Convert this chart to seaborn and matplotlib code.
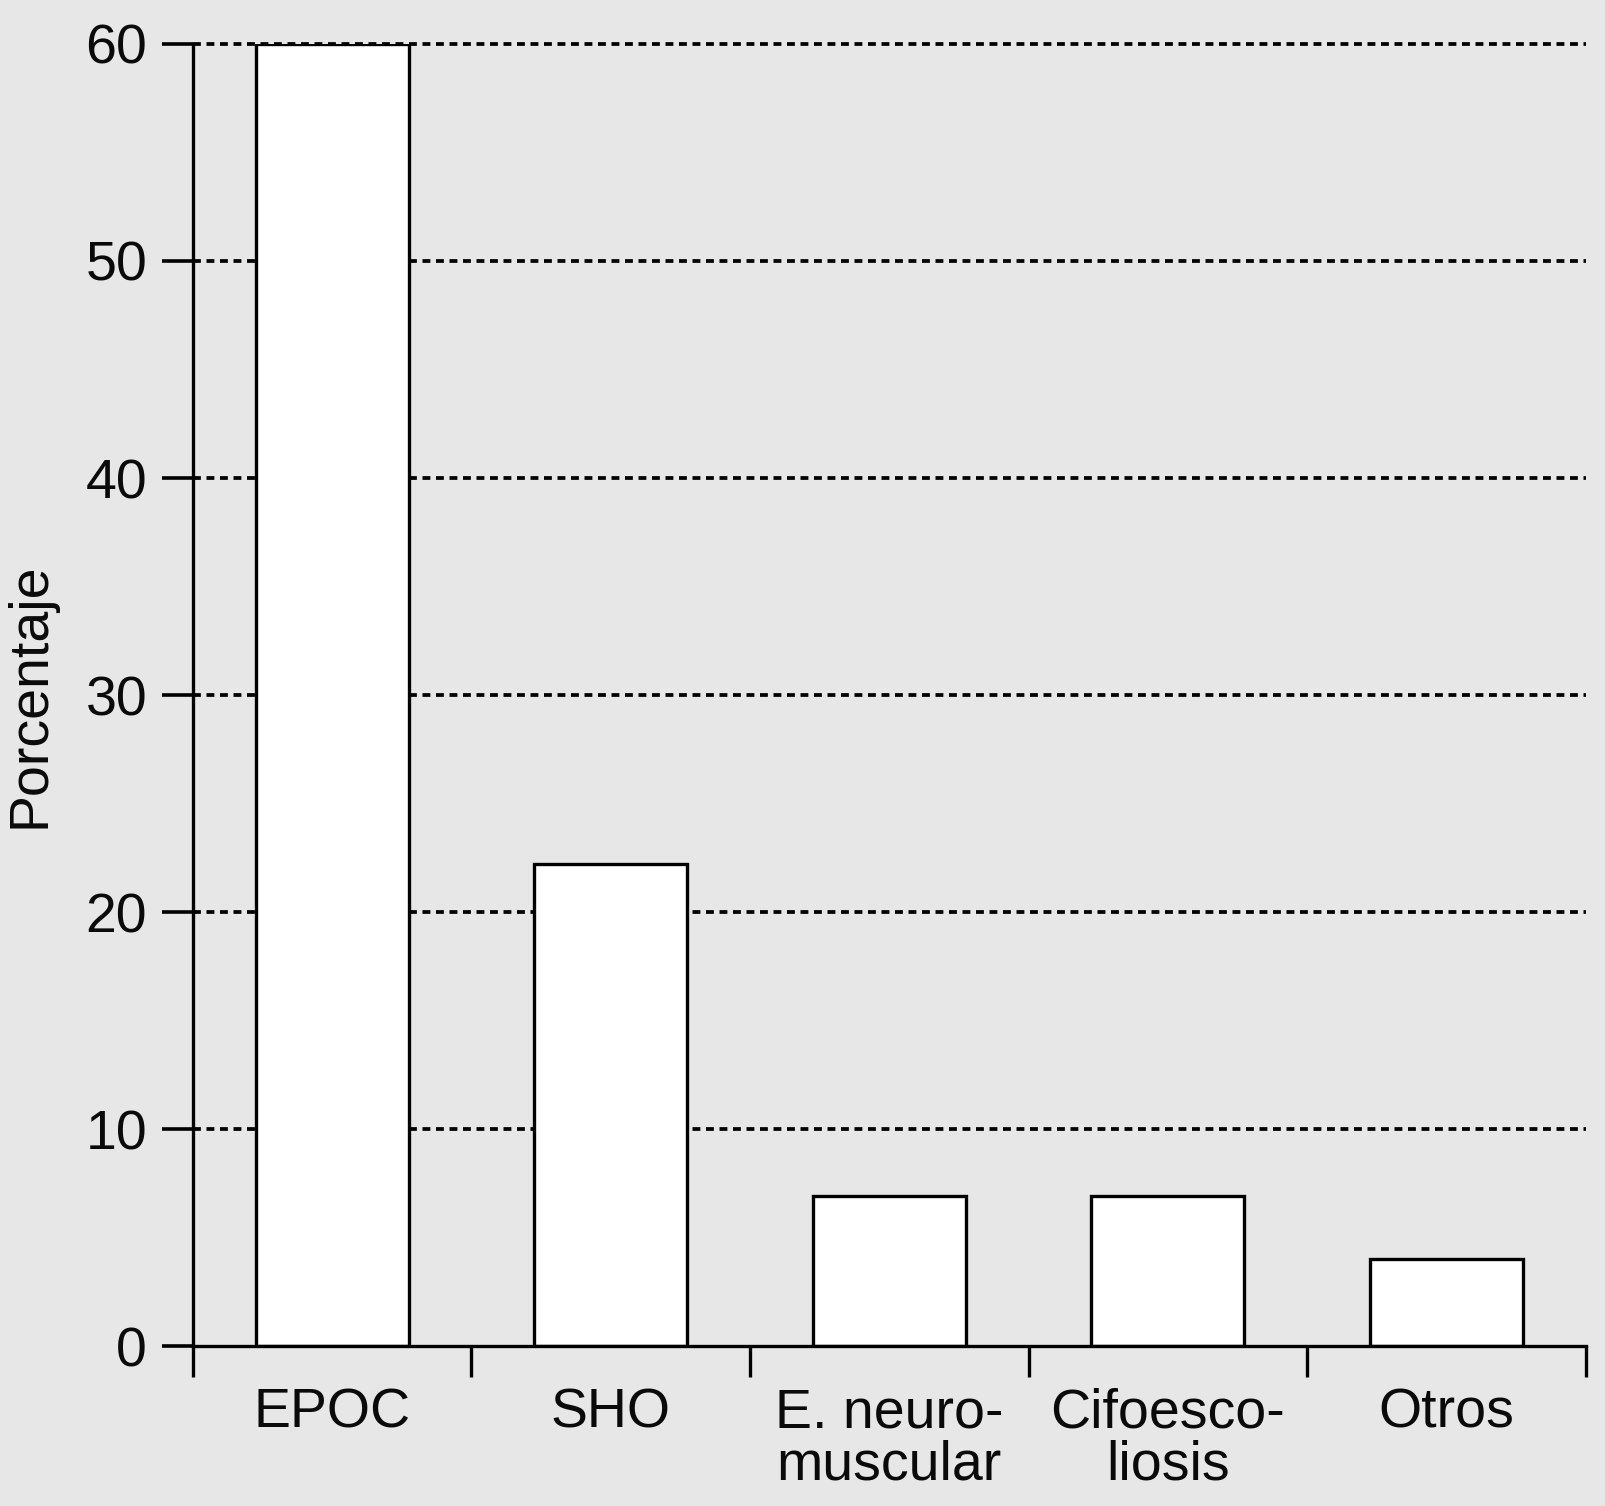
import matplotlib
matplotlib.use("Agg")
import matplotlib.pyplot as plt
import seaborn as sns
import pandas as pd

# datos
categorias = ["EPOC", "SHO", "E. neuro-\nmuscular", "Cifoesco-\nliosis", "Otros"]
porcentajes = [60.0, 22.2, 6.9, 6.9, 4.0]
y_ticks = [0, 10, 20, 30, 40, 50, 60]

fondo = "#e7e7e7"

sns.set_style("white")
plt.rcParams["font.family"] = ["Liberation Sans", "DejaVu Sans"]

df = pd.DataFrame({"categoria": categorias, "valor": porcentajes})

fig = plt.figure(figsize=(16.05, 15.06), dpi=100, facecolor=fondo)
ax = fig.add_axes([0.1202, 0.1062, 0.8678, 0.8646])
ax.set_facecolor(fondo)

sns.barplot(data=df, x="categoria", y="valor", color="white",
            edgecolor="black", linewidth=2.4, width=0.55,
            saturation=1, ax=ax)

ax.set_ylim(0, 60)
ax.set_xlim(-0.5, 4.5)
ax.set_yticks(y_ticks)

# rejilla punteada
ax.set_axisbelow(True)
ax.yaxis.grid(True, linestyle=(0, (2.1, 1.5)), color="black", linewidth=2.7)
for gl, v in zip(ax.yaxis.get_gridlines(), y_ticks):
    gl.set_clip_on(False)
    if v == 0:
        gl.set_visible(False)

# ticks en los limites de las categorias, etiquetas en el centro
ax.set_xticks([i - 0.5 for i in range(len(categorias) + 1)], labels=[""] * (len(categorias) + 1))
ax.set_xticks(range(len(categorias)), labels=categorias, minor=True)
ax.tick_params(axis="x", which="major", direction="out", length=22, width=2.4, color="black", bottom=True)
ax.tick_params(axis="x", which="minor", length=0, pad=30, labelsize=40, labelcolor="#0a0a0a")
for t in ax.get_xticklabels(minor=True):
    t.set_linespacing(1.0)
ax.tick_params(axis="y", direction="out", length=22, width=2.6, color="black",
               left=True, pad=11, labelsize=40, labelcolor="#0a0a0a")

for s in ["top", "right"]:
    ax.spines[s].set_visible(False)
for s in ["left", "bottom"]:
    ax.spines[s].set_color("black")
    ax.spines[s].set_linewidth(2.4)

ax.set_xlabel("")
ax.set_ylabel("Porcentaje", fontsize=40, color="#0a0a0a", labelpad=21)

plt.savefig("out.png", dpi=100, facecolor=fondo)
plt.close()
